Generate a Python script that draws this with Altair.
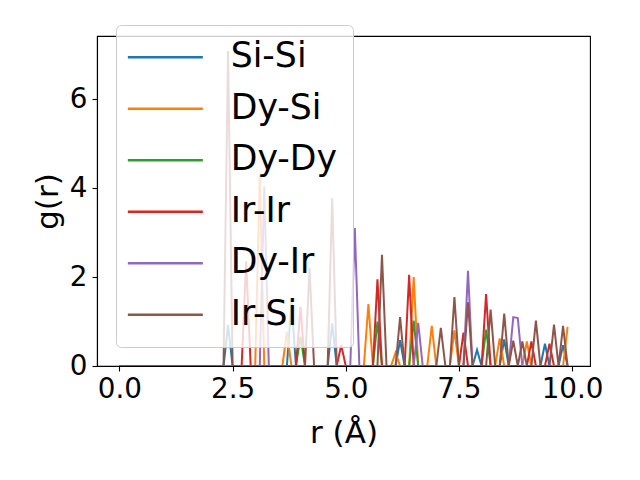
import altair as alt
import pandas as pd

# r grid (Å): 0.0 .. 9.9 step 0.1
r_values = [round(i * 0.1, 1) for i in range(100)]

series_names = ["Si-Si", "Dy-Si", "Dy-Dy", "Ir-Ir", "Dy-Ir", "Ir-Si"]
series_colors = ["#1f77b4", "#ff7f0e", "#2ca02c", "#d62728", "#9467bd", "#8c564b"]

si_si = [
    0, 0, 0, 0, 0, 0, 0, 0, 0, 0,
    0, 0, 0, 0, 0, 0, 0, 0, 0, 0,
    0, 0, 0, 0, 0.92, 0, 0, 0, 0, 0,
    0, 0, 0, 0, 0, 0, 0, 0, 1.45, 0,
    0, 0, 0, 0, 0, 0, 0, 0.96, 0, 0,
    0, 0, 0, 0, 0, 0, 0, 0, 0, 0,
    0, 0, 0.58, 0, 0, 0, 0, 0, 0, 0,
    0, 0, 0, 0, 0, 0, 0, 0, 0, 0.36,
    0, 0, 0, 0, 0, 0.6, 0, 0, 0, 0,
    0, 0, 0, 0, 0.5, 0, 0, 0, 0.47, 0,
]
dy_si = [
    0, 0, 0, 0, 0, 0, 0, 0, 0, 0,
    0, 0, 0, 0, 0, 0, 0, 0, 0, 0,
    0, 0, 0, 0, 0, 0, 0, 0, 0, 0,
    0, 4.29, 0, 0, 0, 0, 0, 0.77, 0, 0,
    0, 0, 0, 0, 0, 0, 0, 0, 0, 0,
    0, 0, 0, 0, 0, 1.39, 0, 0, 0, 0,
    0, 0.3, 0, 0, 0, 2.0, 0, 0, 0, 0.9,
    0, 0, 0, 0, 0.8, 0, 0, 0, 0, 0,
    0, 0, 0, 0, 0.62, 0, 0, 0, 0, 0,
    0.55, 0, 0, 0, 0, 0, 0, 0, 0, 0.88,
]
dy_dy = [
    0, 0, 0, 0, 0, 0, 0, 0, 0, 0,
    0, 0, 0, 0, 0, 0, 0, 0, 0, 0,
    0, 0, 0, 0, 0, 0, 0, 0, 0, 0,
    0, 0, 0, 0, 0, 0, 0, 0, 0, 0,
    0.66, 0, 0, 0, 0, 0, 0, 0, 0, 0,
    0, 0, 0, 0, 0, 0, 0, 1.0, 0, 0,
    0, 0, 0, 0, 0, 1.02, 0, 0, 0, 0,
    0, 0, 0, 0, 0, 0, 0, 0, 0, 0,
    0, 0.82, 0, 0, 0, 0, 0, 0, 0, 0,
    0, 0, 0, 0, 0, 0, 0, 0, 0, 0,
]
ir_ir = [
    0, 0, 0, 0, 0, 0, 0, 0, 0, 0,
    0, 0, 0, 0, 0, 0, 0, 0, 0, 0,
    0, 0, 0, 0, 0, 0, 0, 0, 2.35, 0,
    0, 0, 0, 0, 0, 0, 0, 0, 0, 0,
    1.33, 0, 0, 0, 0, 0, 0, 0, 0, 0.47,
    0, 0, 0, 0, 0, 0, 0, 1.95, 0, 0,
    0, 0, 0, 0, 2.05, 0, 0, 0, 0, 0,
    0, 0, 0, 0, 0, 0, 0.75, 0, 0, 0,
    0, 1.62, 0, 0, 0, 0, 0, 0, 0, 0,
    0, 0.55, 0, 0, 0, 0.5, 0, 0, 0, 0,
]
dy_ir = [
    0, 0, 0, 0, 0, 0, 0, 0, 0, 0,
    0, 0, 0, 0, 0, 0, 0, 0, 0, 0,
    0, 0, 0, 0, 0, 0, 0, 0, 0, 0,
    0, 0, 4.04, 0, 0, 0, 0, 0, 0, 0,
    0, 0, 0, 0, 0, 0, 0, 0, 0, 0,
    0, 0, 3.1, 0, 0, 0, 0, 0, 0, 0,
    0, 0, 0, 0, 0, 0, 0.97, 0, 0, 0,
    0, 0, 0, 0, 0, 0, 0, 2.14, 0, 0,
    0, 0, 0, 0, 0, 0, 0, 1.1, 1.08, 0,
    0, 0, 0, 0, 0, 0, 0, 0, 0, 0,
]
ir_si = [
    0, 0, 0, 0, 0, 0, 0, 0, 0, 0,
    0, 0, 0, 0, 0, 0, 0, 0, 0, 0,
    0, 0, 0, 0, 7.08, 0, 0, 0, 0, 0,
    0, 0, 0, 0, 0, 0, 0, 0, 0, 0,
    0, 0, 2.2, 0, 0, 0, 0, 3.77, 0, 0,
    0, 0, 0, 0, 0, 0, 0, 0, 2.5, 0,
    0, 0, 1.1, 0, 0, 0, 0, 0, 0, 0,
    0, 0.86, 0, 0, 1.55, 0, 0, 1.43, 0, 0,
    0, 0, 1.27, 0, 0, 1.18, 0, 0.57, 0, 0.55,
    0, 0, 1.02, 0, 0, 0, 0.93, 0, 0.9, 0,
]

all_series = [si_si, dy_si, dy_dy, ir_ir, dy_ir, ir_si]

rows = []
for order, (name, vals) in enumerate(zip(series_names, all_series)):
    for r, g in zip(r_values, vals):
        rows.append({"r": r, "g": g, "pair": name, "order": order})
df = pd.DataFrame(rows)

FONT = "DejaVu Sans"

chart = (
    alt.Chart(df)
    .mark_line(strokeWidth=2, clip=True)
    .encode(
        x=alt.X(
            "r:Q",
            scale=alt.Scale(domain=[-0.495, 10.395], nice=False, zero=False),
            axis=alt.Axis(
                title="r (Å)",
                values=[0, 2.5, 5, 7.5, 10],
                format=".1f",
                labelBaseline="alphabetic",
                labelPadding=26,
                titleBaseline="alphabetic",
                titleY=76,
                titleFontSize=31,
            ),
        ),
        y=alt.Y(
            "g:Q",
            scale=alt.Scale(domain=[0, 7.42], nice=False, zero=True),
            axis=alt.Axis(
                title="g(r)",
                values=[0, 2, 4, 6],
                format="d",
                labelPadding=5,
                titleAngle=270,
                titleBaseline="alphabetic",
                titleX=-40,
                titleFontSize=31,
            ),
        ),
        color=alt.Color(
            "pair:N",
            scale=alt.Scale(domain=series_names, range=series_colors),
            legend=alt.Legend(
                title=None,
                orient="none",
                legendX=19,
                legendY=-11,
                symbolType="M-5,0H5",
                symbolSize=225,
                symbolStrokeWidth=2.5,
                symbolOffset=17,
                labelOffset=48,
                labelFontSize=34.7,
                labelFont=FONT,
                labelColor="black",
                rowPadding=15.5,
                padding=15,
                fillColor="rgba(255,255,255,0.8)",
                strokeColor="#cccccc",
                cornerRadius=5,
            ),
        ),
        order=alt.Order("order:Q"),
    )
    .properties(
        width=493,
        height=330,
        autosize=alt.AutoSizeParams(type="none"),
        padding={"left": 89, "top": 28, "right": 42, "bottom": 106},
    )
    .configure_view(stroke="black", strokeWidth=1.1)
    .configure_axis(
        grid=False,
        domainColor="black",
        domainWidth=1.1,
        tickColor="black",
        tickSize=5,
        tickWidth=1.1,
        labelFont=FONT,
        labelFontSize=27.8,
        labelColor="black",
        titleFont=FONT,
        titleFontWeight="normal",
        titleColor="black",
    )
)

chart.save("out.html", embed_options={"renderer": "svg", "actions": False})
